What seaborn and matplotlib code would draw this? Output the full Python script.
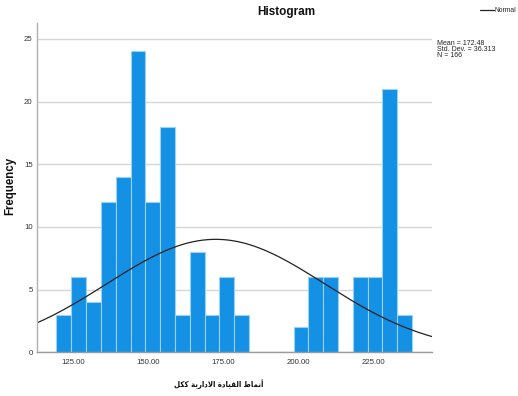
import numpy as np
import pandas as pd
import matplotlib
matplotlib.use("Agg")
import matplotlib.pyplot as plt
from matplotlib.lines import Line2D
import seaborn as sns

# Frequencies per bin of the overall leadership-style score
bin_counts = [3, 6, 4, 12, 14, 24, 12, 18, 3, 8, 3, 6, 3,
              0, 0, 0, 2, 6, 6, 0, 6, 6, 21, 3]
bin_start = 119.4
bin_width = 4.94

mean_val = 172.48
std_val = 36.313
n_val = 166

x_ticks = [125, 150, 175, 200, 225]
y_ticks = [0, 5, 10, 15, 20, 25]

title_text = "Histogram"
x_label = "أنماط القيادة الادارية ككل"
y_label = "Frequency"
legend_label = "Normal"

# --- simple Arabic shaping (presentation forms, visual order) ---
FORMS = {
    'ا': (0xFE8D, 0xFE8E), 'أ': (0xFE83, 0xFE84), 'د': (0xFEA9, 0xFEAA),
    'ر': (0xFEAD, 0xFEAE), 'ة': (0xFE93, 0xFE94),
    'ن': (0xFEE5, 0xFEE6, 0xFEE7, 0xFEE8), 'م': (0xFEE1, 0xFEE2, 0xFEE3, 0xFEE4),
    'ط': (0xFEC1, 0xFEC2, 0xFEC3, 0xFEC4), 'ل': (0xFEDD, 0xFEDE, 0xFEDF, 0xFEE0),
    'ق': (0xFED5, 0xFED6, 0xFED7, 0xFED8), 'ي': (0xFEF1, 0xFEF2, 0xFEF3, 0xFEF4),
    'ك': (0xFED9, 0xFEDA, 0xFEDB, 0xFEDC),
}
LAM_ALEF = {'ا': (0xFEFB, 0xFEFC), 'أ': (0xFEF7, 0xFEF8)}


def shape_arabic(text):
    words = []
    for word in text.split(' '):
        units = []
        i = 0
        while i < len(word):
            c = word[i]
            if c == 'ل' and i + 1 < len(word) and word[i + 1] in LAM_ALEF:
                units.append(LAM_ALEF[word[i + 1]])
                i += 2
            else:
                units.append(FORMS.get(c, (ord(c), ord(c))))
                i += 1
        glyphs = []
        for k, f in enumerate(units):
            prev_joins = k > 0 and len(units[k - 1]) == 4
            has_next = k + 1 < len(units)
            if len(f) == 4 and has_next:
                g = f[3] if prev_joins else f[2]
            else:
                g = f[1] if prev_joins else f[0]
            glyphs.append(chr(g))
        words.append(''.join(reversed(glyphs)))
    return ' '.join(reversed(words))


sns.set_style("white")
plt.rcParams['font.family'] = ['Liberation Sans', 'DejaVu Sans']

W, H = 518, 396
fig = plt.figure(figsize=(W / 100, H / 100), dpi=100)
ax = fig.add_axes([36.7 / W, 1 - 352.3 / H, (432.3 - 36.7) / W, (352.3 - 22.5) / H])

n_bins = len(bin_counts)
edges = bin_start + bin_width * np.arange(n_bins + 1)
hist_df = pd.DataFrame({
    "score": (edges[:-1] + edges[1:]) / 2,
    "count": bin_counts,
})

sns.histplot(data=hist_df, x="score", weights="count",
             binwidth=bin_width, binrange=(edges[0], edges[-1]), ax=ax,
             color="#1490e4", alpha=1, edgecolor="#9ad2f5", linewidth=0.8)

x_lo, x_hi = 112.8, 244.7
xs = np.linspace(x_lo, x_hi, 300)
ys = n_val * bin_width * np.exp(-0.5 * ((xs - mean_val) / std_val) ** 2) / (std_val * np.sqrt(2 * np.pi))
sns.lineplot(x=xs, y=ys, ax=ax, color="#222222", linewidth=0.9)

ax.set_xlim(x_lo, x_hi)
ax.set_ylim(0, 26.3)
ax.set_xticks(x_ticks)
ax.set_xticklabels([f"{t:.2f}" for t in x_ticks])
ax.set_yticks(y_ticks)
ax.tick_params(axis='both', length=0, labelsize=5.6, labelcolor="#333333")
ax.tick_params(axis='x', pad=5)
ax.tick_params(axis='y', pad=3)

ax.yaxis.grid(True, color="#d6d6d6", linewidth=1)
ax.xaxis.grid(False)
ax.set_axisbelow(True)
for side in ("top", "right"):
    ax.spines[side].set_visible(False)
ax.spines["left"].set_color("#b0b0b0")
ax.spines["bottom"].set_color("#9a9a9a")
ax.spines["left"].set_linewidth(1)
ax.spines["bottom"].set_linewidth(1)

ax.set_xlabel("")
ax.set_ylabel("")

fig.text(286 / W, 1 - 12.5 / H, title_text, ha="center", va="center",
         fontsize=8.5, fontweight="bold", color="#111111")
fig.text(10 / W, 1 - 186 / H, y_label, ha="center", va="center", rotation=90,
         fontsize=8.3, fontweight="bold", color="#111111")
fig.text(219 / W, 1 - 384 / H, shape_arabic(x_label), ha="center", va="center",
         fontsize=5.6, fontweight="bold", fontstretch="condensed",
         color="#111111", family=["DejaVu Sans"])

# statistics block
stats = [f"Mean = {mean_val:.2f}", f"Std. Dev. = {std_val:.3f}", f"N = {n_val}"]
for k, s in enumerate(stats):
    fig.text(437 / W, 1 - (43.7 + 5.8 * k) / H, s, ha="left", va="center",
             fontsize=5.0, color="#222222")

# legend entry for the fitted normal curve
fig.add_artist(Line2D([479.5 / W, 493.5 / W], [1 - 10 / H, 1 - 10 / H],
                      color="#222222", linewidth=0.9, transform=fig.transFigure))
fig.text(494.5 / W, 1 - 10 / H, legend_label, ha="left", va="center",
         fontsize=4.9, color="#222222")

fig.savefig("out.png", dpi=100)
